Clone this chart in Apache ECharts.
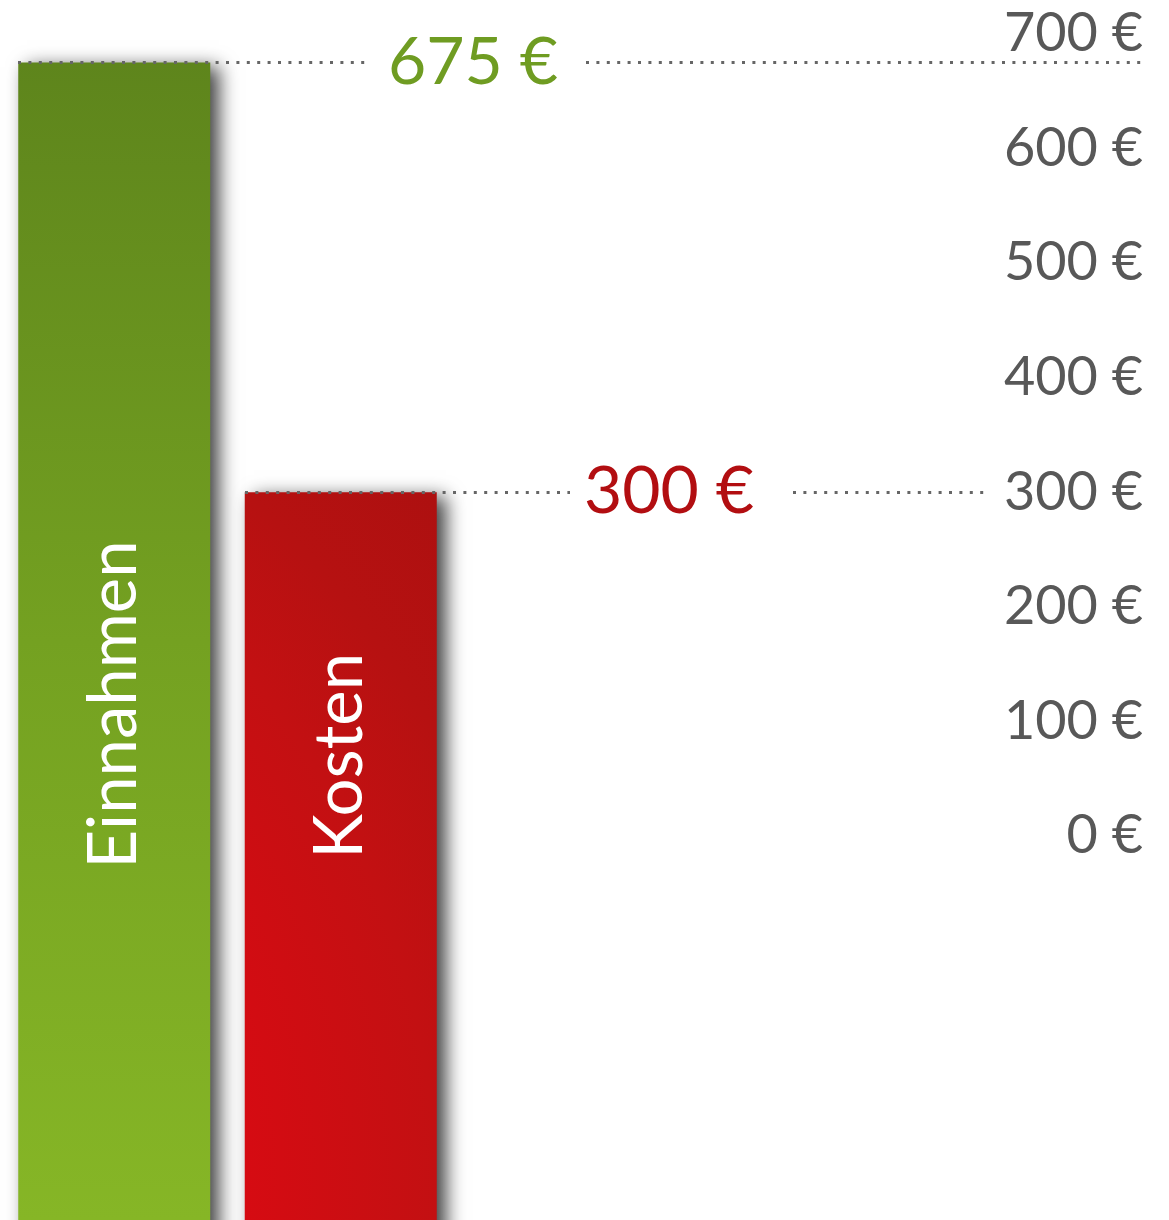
<!DOCTYPE html>
<html>
<head>
<meta charset="utf-8">
<script src="https://cdn.jsdelivr.net/npm/echarts@6/dist/echarts.min.js"></script>
<style>
    html, body { margin: 0; padding: 0; background: #fff; }
    #chart { width: 1169px; height: 1220px; }
</style>
</head>
<body>
<div id="chart"></div>
<script>
    // Einnahmen / Kosten
    var categories = ['Einnahmen', 'Kosten'];
    var amounts = [675, 300];
    var axisMax = 700;
    var axisStep = 100;
    var axisFloor = -400;      // bars run on below 0 € off the bottom of the picture

    var fontName = 'Lato';

    var greenFill = {
        type: 'linear', x: 0, y: 62, x2: 0, y2: 1220, global: true,
        colorStops: [
            { offset: 0, color: '#5e851c' },
            { offset: 0.5, color: '#74a121' },
            { offset: 1, color: '#86b626' }
        ]
    };
    var redFill = {
        type: 'radial', x: -400, y: 1200, r: 1100, global: true,
        colorStops: [
            { offset: 0, color: '#e00a12' },
            { offset: 0.585, color: '#d60b12' },
            { offset: 0.76, color: '#c31012' },
            { offset: 0.87, color: '#b61111' },
            { offset: 1, color: '#ad1010' }
        ]
    };

    function valueLabel(text, color, gap) {
        return {
            show: true,
            position: 'end',
            distance: gap,
            formatter: text,
            color: color,
            fontFamily: fontName,
            fontSize: 66
        };
    }

    var chart = echarts.init(document.getElementById('chart'));

    var option = {
        backgroundColor: '#fff',
        animation: false,
        grid: {
            left: 1,
            width: 453,
            top: 33.8,
            bottom: -74.4,
            outerBoundsMode: 'none',
            containLabel: false
        },
        xAxis: {
            type: 'category',
            data: categories,
            show: false
        },
        yAxis: {
            type: 'value',
            position: 'right',
            min: axisFloor,
            max: axisMax,
            interval: axisStep,
            startValue: axisFloor,
            axisLine: { show: false },
            axisTick: { show: false },
            splitLine: { show: false },
            axisLabel: {
                align: 'right',
                margin: 689,
                color: '#585858',
                fontFamily: fontName,
                fontSize: 54,
                formatter: function (v) {
                    return v < 0 ? '' : v + ' €';
                }
            }
        },
        series: [
            {
                type: 'bar',
                clip: false,
                barWidth: 192,
                itemStyle: {
                    shadowColor: 'rgba(0,0,0,0.75)',
                    shadowBlur: 18,
                    shadowOffsetX: 9,
                    shadowOffsetY: 5
                },
                label: {
                    show: true,
                    position: 'insideBottom',
                    rotate: 90,
                    align: 'left',
                    verticalAlign: 'middle',
                    formatter: '{b}',
                    color: '#fff',
                    fontFamily: fontName,
                    fontSize: 67
                },
                data: [
                    { value: amounts[0], itemStyle: { color: greenFill }, label: { distance: 426 } },
                    { value: amounts[1], itemStyle: { color: redFill }, label: { distance: 436 } }
                ],
                markLine: {
                    silent: true,
                    symbol: 'none',
                    animation: false,
                    lineStyle: { color: '#666', width: 3, type: [3, 7.4] },
                    label: { show: false },
                    data: [
                        [{ x: 18, yAxis: amounts[0], label: valueLabel(amounts[0] + ' €', '#6f9c22', 21) },
                         { x: 367, yAxis: amounts[0] }],
                        [{ x: 586, yAxis: amounts[0] }, { x: 1147, yAxis: amounts[0] }],
                        [{ x: 245, yAxis: amounts[1], label: valueLabel(amounts[1] + ' €', '#b20e11', 14) },
                         { x: 570, yAxis: amounts[1] }],
                        [{ x: 793, yAxis: amounts[1] }, { x: 988, yAxis: amounts[1] }]
                    ]
                }
            }
        ]
    };

    chart.setOption(option);
</script>
</body>
</html>
